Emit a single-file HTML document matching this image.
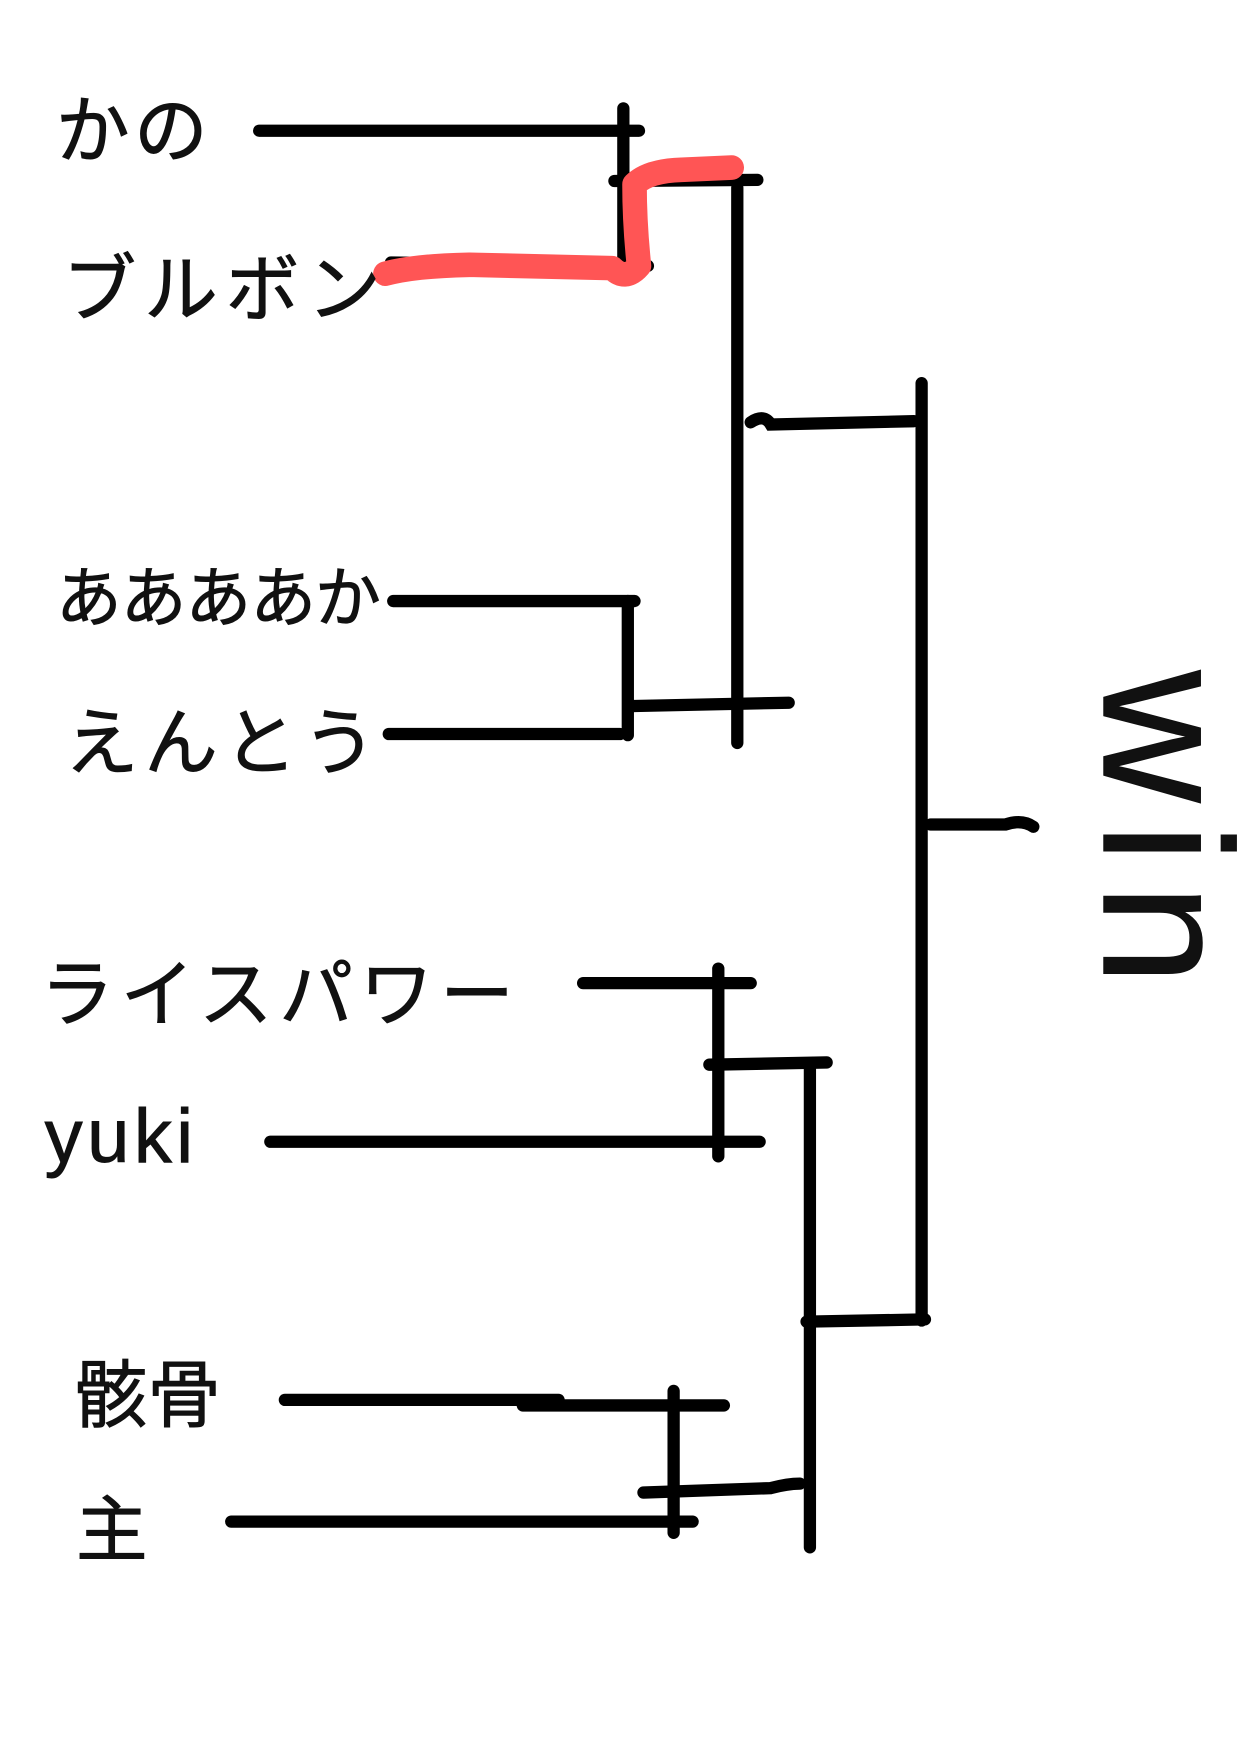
<!DOCTYPE html>
<html><head><meta charset="utf-8"><style>
html,body{margin:0;padding:0;background:#fff;}
svg{display:block;}
text{font-family:"Liberation Sans","Noto Sans CJK JP",sans-serif;fill:#111;stroke:#111;stroke-width:0.8;}
</style></head><body>
<svg width="1240" height="1754" viewBox="0 0 1110 1570" preserveAspectRatio="none">
<rect width="1110" height="1570" fill="#fff"/>
<g stroke="#000" stroke-width="11" stroke-linecap="round" fill="none">
<line x1="232" y1="117" x2="572" y2="117"/>
<line x1="558" y1="97" x2="558" y2="245"/>
<line x1="350" y1="235" x2="580" y2="238"/>
<line x1="550" y1="162" x2="678" y2="161"/>
<line x1="660" y1="168" x2="660" y2="665"/>
<path d="M672 378 Q684 370 690 380 L818 377"/>
<line x1="825" y1="343" x2="825" y2="1182"/>
<line x1="352" y1="538" x2="568" y2="538"/>
<line x1="562" y1="538" x2="562" y2="658"/>
<line x1="348" y1="657" x2="555" y2="657"/>
<line x1="565" y1="632" x2="706" y2="629"/>
<path d="M833 738 L900 738 Q915 733 925 740"/>
<line x1="522" y1="880" x2="672" y2="880"/>
<line x1="643" y1="867" x2="643" y2="1035"/>
<line x1="242" y1="1022" x2="680" y2="1022"/>
<line x1="635" y1="953" x2="740" y2="951"/>
<line x1="725" y1="955" x2="725" y2="1385"/>
<line x1="722" y1="1183" x2="828" y2="1181"/>
<line x1="255" y1="1253" x2="500" y2="1253"/>
<line x1="468" y1="1258" x2="648" y2="1258"/>
<line x1="603" y1="1245" x2="603" y2="1372"/>
<line x1="207" y1="1362" x2="620" y2="1362"/>
<path d="M576 1336 L690 1332 Q705 1328 716 1328"/>
</g>
<path d="M345 245 Q370 238 420 237 L548 240 Q560 252 572 238 Q568 200 568 165 Q580 153 610 152 L655 150" stroke="#ff5555" stroke-width="22" stroke-linecap="round" stroke-linejoin="round" fill="none"/>
<text x="50" y="140" font-size="66" letter-spacing="4">かの</text>
<text x="56" y="282" font-size="66" letter-spacing="7">ブルボン</text>
<text x="50" y="556" font-size="59" letter-spacing="-1">ああああか</text>
<text x="58" y="688" font-size="66" letter-spacing="5">えんとう</text>
<text x="36" y="913" font-size="66" letter-spacing="6">ライスパワー</text>
<text x="40" y="1040" font-size="68" letter-spacing="4">yuki</text>
<text x="66" y="1272" font-size="66">骸骨</text>
<text x="68" y="1392" font-size="64">主</text>
<text x="988" y="600" font-size="164" letter-spacing="18" transform="rotate(90 988 600)">win</text>
</svg>
</body></html>
